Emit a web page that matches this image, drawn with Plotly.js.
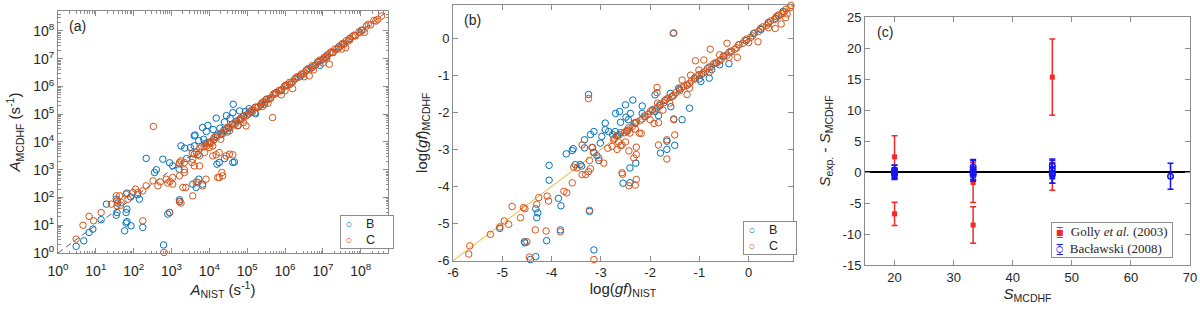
<!DOCTYPE html>
<html><head><meta charset="utf-8">
<script src="https://cdn.plot.ly/plotly-3.0.1.min.js"></script>
<style>html,body{margin:0;padding:0;background:#fff;} #chart{width:1200px;height:310px;}</style>
</head><body><div id="chart"></div>
<script>
// ---------- Panel (a): log10 of transition rates A (s^-1) ----------
const aB_logNIST = [8.70,4.63,4.62,4.80,4.45,4.18,3.96,3.82,3.60,3.62,3.92,4.10,4.28,4.40,4.55,3.60,3.25,3.72,3.85,3.50,3.35,3.70,2.77,2.33,3.03,2.95,3.20,2.55,4.26,4.62,4.66,4.40,4.20,3.56,3.65,3.82,3.72,1.82,2.15,2.10,1.92,1.54,1.58,1.28,1.56,1.54,1.80,1.82,1.82,1.80,1.93,1.76,1.14,0.92,0.82,0.68,0.48,2.24,3.21,3.22,2.95,2.90,2.79,2.60,3.40,3.90,4.02,4.12,4.21,4.33,4.38,4.51,4.60,4.72,4.81,4.90,5.03,5.12,5.21,5.36,5.50,5.62,5.76,5.91,6.02,6.13,6.26,6.41,6.56,6.71,6.86,7.01,7.12,7.27,7.42,7.56,7.71,7.86,8.02,4.47,4.76,5.22,5.46,6.92,4.95,5.05];
const aB_logMCDHF = [8.75,5.36,5.06,5.12,4.95,4.86,4.60,4.52,4.22,4.25,4.38,4.45,4.50,4.72,4.85,3.86,3.86,4.05,4.10,3.80,3.78,3.55,3.38,3.41,3.14,3.25,3.02,2.90,3.26,3.26,3.28,3.40,3.20,2.48,2.36,2.48,2.66,2.16,1.94,2.10,2.02,1.94,1.80,1.76,1.46,1.36,1.46,1.58,1.13,1.08,0.98,0.80,1.20,0.86,0.74,0.44,0.24,0.92,1.92,1.86,1.46,1.40,0.29,3.00,3.40,3.95,4.00,4.08,4.25,4.28,4.42,4.50,4.63,4.75,4.78,4.93,5.02,5.06,5.25,5.33,5.53,5.58,5.78,5.88,6.04,6.08,6.27,6.38,6.58,6.68,6.88,6.98,7.14,7.22,7.43,7.53,7.73,7.83,8.03,4.36,4.60,5.02,5.36,6.76,5.10,5.20];
const aC_logNIST = [8.55,2.52,4.97,4.75,4.53,4.09,4.09,4.18,4.26,3.87,3.74,3.56,3.54,3.60,3.34,3.21,3.21,3.25,3.34,3.74,3.92,4.00,4.44,4.53,4.62,4.33,4.22,4.26,4.35,3.38,3.56,3.69,3.82,3.91,3.65,3.03,3.21,3.34,2.86,2.90,2.96,3.03,2.51,2.64,2.70,2.33,2.24,2.11,2.05,1.98,1.80,1.63,1.85,1.67,1.54,1.56,1.56,1.65,1.41,1.14,0.94,0.82,0.66,0.48,3.21,3.25,2.24,2.95,2.80,3.30,4.05,5.67,6.20,6.64,7.17,7.10,5.40,5.90,7.60,
  3.55,3.66,3.75,3.86,3.95,4.03,4.12,4.20,4.29,4.38,4.45,4.55,4.62,4.70,4.78,4.86,4.92,5.00,5.08,5.15,5.23,5.30,5.38,5.46,5.52,5.61,5.68,5.75,5.83,5.90,5.98,6.06,6.12,6.21,6.28,6.35,6.43,6.50,6.58,6.66,6.72,6.81,6.88,6.95,7.03,7.10,7.18,7.26,7.32,7.41,7.48,7.56,7.62,7.71,7.78,7.86,7.95,8.06,8.15,8.26,8.35,8.45,4.90,5.55,6.00,6.50,7.00,7.50,8.10,5.20,4.30,6.75,
  3.60,3.80,4.00,4.16,4.34,4.50,4.66,4.82,4.97,5.12,5.27,5.42,5.57,5.72,5.87,6.02,6.17,6.32,6.47,6.62,6.77,6.92,7.07,7.22,7.37,7.52,7.67,7.82,7.98,8.20,8.40];
const aC_logMCDHF = [8.54,4.56,4.58,4.58,4.40,3.86,3.50,3.54,3.62,3.62,3.50,3.38,3.26,3.14,3.26,3.26,3.20,3.32,3.00,3.14,3.86,3.80,3.50,3.56,3.54,2.90,2.72,2.72,2.78,2.36,2.06,2.54,2.42,2.66,2.56,2.72,2.78,2.90,2.66,2.52,2.58,2.48,2.60,2.42,2.56,2.42,2.24,2.18,2.30,2.18,2.12,2.06,1.94,1.82,2.06,1.88,1.70,1.72,1.76,1.46,1.16,1.32,1.00,0.50,1.85,1.80,1.16,1.46,0.02,2.36,3.95,4.88,5.92,6.38,6.80,7.00,5.28,5.70,7.40,
  3.60,3.62,3.78,3.83,3.98,4.00,4.15,4.18,4.30,4.36,4.47,4.52,4.65,4.68,4.80,4.83,4.95,4.98,5.10,5.13,5.25,5.28,5.40,5.43,5.55,5.58,5.70,5.73,5.85,5.88,6.00,6.03,6.15,6.18,6.30,6.33,6.45,6.48,6.60,6.63,6.75,6.78,6.90,6.93,7.05,7.08,7.20,7.23,7.35,7.38,7.50,7.53,7.65,7.68,7.80,7.83,7.97,8.03,8.18,8.22,8.38,8.42,4.70,5.40,5.85,6.35,6.85,7.35,7.95,5.05,4.10,6.60,
  3.56,3.84,3.96,4.20,4.31,4.53,4.62,4.85,4.94,5.15,5.24,5.45,5.54,5.75,5.84,6.05,6.14,6.35,6.44,6.65,6.74,6.95,7.04,7.25,7.34,7.55,7.64,7.85,7.94,8.24,8.36];
const aDiag = [1, 5.2e8];

// ---------- Panel (b): log(gf) ----------
const bB_NIST = [-1.53,-3.25,-2.35,-2.50,-2.70,-2.62,-2.49,-2.44,-2.60,-2.91,-2.91,-2.84,-2.76,-2.66,-2.71,-2.98,-3.01,-3.14,-3.21,-3.33,-3.33,-3.56,-3.58,-3.70,-3.42,-3.39,-3.52,-3.17,-3.14,-3.08,-3.04,-4.05,-4.05,-3.86,-3.81,-4.30,-4.28,-4.32,-4.10,-3.82,-4.55,-4.32,-4.43,-3.14,-3.23,-2.41,-2.41,-2.55,-2.29,-1.79,-1.66,-1.50,-1.66,-1.35,-1.20,-1.58,-1.52,-1.83,-2.16,-2.40,-1.90,-2.16,-1.59,-1.42,-0.97,-0.80,-0.59,-0.40,-5.05,-4.54,-1.90,
  -2.30,-2.10,-1.95,-1.80,-1.70,-1.55,-1.40,-1.25,-1.10,-0.95,-0.80,-0.65,-0.50,-0.35,-0.20,-0.05,0.10,0.25,0.40,0.55,0.70,-2.60,-2.45,-1.00,-0.75];
const bB_MCDHF = [0.13,-1.52,-1.67,-1.80,-2.03,-1.98,-2.13,-2.20,-2.27,-2.29,-2.47,-2.52,-2.60,-2.62,-2.52,-2.65,-2.83,-2.52,-2.60,-2.74,-2.96,-2.98,-3.03,-3.12,-3.41,-3.45,-3.41,-2.95,-3.08,-3.17,-3.30,-3.43,-3.83,-4.32,-4.52,-4.84,-4.71,-4.60,-5.46,-5.17,-5.49,-5.89,-5.97,-5.71,-4.67,-3.50,-3.90,-3.91,-3.37,-3.10,-3.00,-2.89,-2.78,-2.20,-1.89,-1.85,-2.18,-2.09,-2.03,-2.03,-1.53,-1.83,-1.49,-1.35,-1.17,-1.08,-0.72,-0.69,-5.13,-5.52,-1.98,
  -2.28,-2.12,-1.93,-1.82,-1.68,-1.57,-1.38,-1.27,-1.08,-0.97,-0.78,-0.67,-0.48,-0.37,-0.18,-0.07,0.12,0.23,0.42,0.53,0.72,-2.55,-2.48,-1.10,-0.85];
const bC_NIST = [-1.52,-3.25,-5.68,-5.66,-5.24,-5.05,-4.96,-4.87,-4.80,-4.57,-4.63,-4.54,-4.50,-4.45,-4.33,-4.30,-4.26,-4.09,-4.11,-4.06,-3.82,-3.75,-3.69,-3.58,-3.55,-3.48,-3.38,-3.31,-3.25,-3.21,-3.38,-3.23,-3.23,-3.14,-3.18,-3.15,-3.04,-2.94,-2.86,-2.77,-2.74,-2.67,-2.64,-2.57,-2.50,-2.47,-2.43,-2.60,-2.41,-2.22,-2.28,-2.28,-2.28,-2.33,-2.57,-2.56,-2.30,-2.43,-1.86,-1.86,-1.74,-1.83,-1.83,-1.66,-1.66,-1.92,-2.18,-1.50,-1.52,-1.25,-1.35,-1.18,-1.01,-1.08,-0.91,-0.78,-0.59,-0.44,-0.23,0.19,0.54,0.66,0.61,0.78,0.88,
  -2.72,-2.62,-2.52,-2.44,-2.36,-2.28,-2.20,-2.12,-2.04,-1.96,-1.88,-1.80,-1.72,-1.64,-1.56,-1.48,-1.40,-1.32,-1.24,-1.16,-1.08,-1.00,-0.92,-0.84,-0.76,-0.68,-0.60,-0.52,-0.44,-0.36,-0.28,-0.20,-0.12,-0.04,0.04,0.12,0.20,0.28,0.36,0.44,0.52,0.60,0.68,0.76,0.84,-2.00,-1.60,-1.20,-0.80,-0.40,0.00,0.40,0.75,-2.30,-1.85,
  -2.68,-2.48,-2.32,-2.16,-2.00,-1.84,-1.68,-1.52,-1.36,-1.20,-1.04,-0.88,-0.72,-0.56,-0.40,-0.24,-0.08,0.08,0.24,0.40,0.56,0.72,0.86];
const bC_MCDHF = [0.14,-1.63,-5.82,-5.60,-5.29,-5.09,-4.93,-5.02,-4.54,-4.57,-4.84,-4.60,-5.49,-5.90,-5.17,-4.48,-4.30,-4.26,-5.20,-4.39,-5.22,-4.13,-4.17,-3.90,-3.48,-3.50,-3.68,-3.68,-3.60,-3.52,-2.88,-3.30,-4.64,-5.97,-2.95,-3.08,-3.23,-3.37,-2.97,-2.92,-2.74,-3.00,-2.80,-2.88,-2.80,-2.52,-3.04,-2.90,-2.56,-2.56,-2.94,-3.14,-3.81,-3.23,-3.63,-3.67,-3.96,-3.98,-1.33,-1.47,-1.94,-2.28,-2.88,-2.74,-3.26,-2.30,-2.57,-2.61,-2.20,-1.52,-1.13,-1.00,-0.86,-0.61,-0.59,-0.30,-0.45,-0.14,-0.52,-0.10,0.26,0.38,0.60,0.65,0.92,
  -2.70,-2.60,-2.55,-2.42,-2.38,-2.27,-2.22,-2.10,-2.06,-1.95,-1.90,-1.78,-1.74,-1.62,-1.58,-1.47,-1.42,-1.30,-1.26,-1.15,-1.10,-0.98,-0.94,-0.82,-0.78,-0.67,-0.62,-0.50,-0.46,-0.35,-0.30,-0.18,-0.14,-0.03,0.02,0.14,0.18,0.30,0.34,0.46,0.50,0.62,0.66,0.78,0.82,-2.20,-1.75,-1.35,-0.92,-0.52,-0.12,0.28,0.55,-2.45,-1.75,
  -2.64,-2.50,-2.30,-2.18,-1.98,-1.86,-1.66,-1.54,-1.34,-1.22,-1.02,-0.90,-0.70,-0.58,-0.38,-0.26,-0.06,0.06,0.26,0.38,0.58,0.70,0.88];
const bDiag = [-6, 0.9];

// ---------- Panel (c): S_exp - S_MCDHF ----------
const golly_S = [20, 20, 33.3, 33.3, 46.7, 46.7];
const golly_diff = [2.45, -6.75, -8.55, -1.7, 15.3, -0.7];
const golly_err = [3.4, 1.87, 2.95, 3.2, 6.15, 2.25];
const bac_S = [20, 20, 20, 20, 33.3, 33.3, 33.3, 33.3, 46.7, 46.7, 46.7, 46.7, 66.7];
const bac_diff = [0.3, 0.1, -0.2, -0.4, 0.8, 0.3, -0.2, -0.5, 1.0, 0.4, -0.2, -0.5, -0.7];
const bac_err = [0.8, 1.0, 0.9, 0.8, 1.2, 1.5, 1.0, 1.0, 1.1, 1.5, 1.6, 1.3, 2.1];

// ---------- styling ----------
const FONT = '"Liberation Sans", Arial, sans-serif';
const SERIF = '"Liberation Serif", "Times New Roman", serif';
const TXT = '#262626';
const AXC = '#8c8c8c';
const BLUE = '#0072BD', ORANGE = '#D95319', YEL = '#EDB120';
const RED = 'rgb(245,40,40)', BBLUE = 'rgb(20,20,245)';
const pow10 = v => Math.pow(10, v);

const majorVals = [], majorText = [], minorVals = [];
for (let n = 0; n <= 8; n++) {
  majorVals.push(Math.pow(10, n));
  majorText.push('10<sup>' + n + '</sup>');
  for (let k = 2; k <= 9; k++) minorVals.push(k * Math.pow(10, n));
}

function ax(extra) {
  return Object.assign({
    showline: true, linecolor: AXC, linewidth: 1, mirror: 'ticks',
    ticks: 'inside', ticklen: 5, tickcolor: AXC, tickwidth: 1,
    showgrid: false, zeroline: false, automargin: false,
    tickfont: {family: FONT, size: 13, color: TXT}
  }, extra);
}
function logAx(extra) {
  return ax(Object.assign({
    type: 'log', range: [0, 8.72],
    tickmode: 'array', tickvals: majorVals, ticktext: majorText,
    tickfont: {family: FONT, size: 14, color: TXT},
    minor: {tickmode: 'array', tickvals: minorVals, ticks: 'inside', ticklen: 2.5, tickcolor: AXC, showgrid: false}
  }, extra));
}
const titleFont = {family: FONT, size: 15, color: TXT};

const circ = (c) => ({symbol: 'circle-open', size: 6.5, color: c, line: {width: 1, color: c}});

const traces = [
  {x: aDiag, y: aDiag, mode: 'lines', line: {color: '#333', width: 0.8, dash: '6px,4px'}, xaxis: 'x', yaxis: 'y', hoverinfo: 'skip'},
  {x: aB_logNIST.map(pow10), y: aB_logMCDHF.map(pow10), mode: 'markers', name: 'B', marker: circ(BLUE), xaxis: 'x', yaxis: 'y', cliponaxis: false},
  {x: aC_logNIST.map(pow10), y: aC_logMCDHF.map(pow10), mode: 'markers', name: 'C', marker: circ(ORANGE), xaxis: 'x', yaxis: 'y', cliponaxis: false},

  {x: bDiag, y: bDiag, mode: 'lines', line: {color: YEL, width: 1}, xaxis: 'x2', yaxis: 'y2', hoverinfo: 'skip'},
  {x: bB_NIST, y: bB_MCDHF, mode: 'markers', name: 'B', marker: circ(BLUE), xaxis: 'x2', yaxis: 'y2', cliponaxis: false},
  {x: bC_NIST, y: bC_MCDHF, mode: 'markers', name: 'C', marker: circ(ORANGE), xaxis: 'x2', yaxis: 'y2', cliponaxis: false},

  {x: golly_S, y: golly_diff, mode: 'markers', name: 'Golly et al. (2003)',
   marker: {symbol: 'square', size: 5, color: RED},
   error_y: {type: 'data', array: golly_err, visible: true, color: RED, thickness: 1.5, width: 3},
   xaxis: 'x3', yaxis: 'y3'},
  {x: bac_S, y: bac_diff, mode: 'markers', name: 'Bacławski (2008)',
   marker: {symbol: 'circle-open', size: 5.5, color: BBLUE, line: {width: 1.5, color: BBLUE}},
   error_y: {type: 'data', array: bac_err, visible: true, color: BBLUE, thickness: 1.5, width: 3},
   xaxis: 'x3', yaxis: 'y3'}
];

const W = 1200, H = 310;
const dx = (a, b) => [a / W, b / W];
const dy = (top, bottom) => [1 - bottom / H, 1 - top / H];

const sym = (c, ch, sz) => '<span style="color:' + c + ';font-size:' + sz + 'px">' + ch + '</span>';
function legendBox(text, px, py, font) {
  return {text: text, xref: 'paper', yref: 'paper', x: px / W, y: 1 - py / H, xanchor: 'left', yanchor: 'top',
    align: 'left', showarrow: false, bgcolor: '#fff', bordercolor: AXC, borderwidth: 1, borderpad: 1, font: font};
}
const legFont = {family: FONT, size: 12.5, color: TXT};
const legText = ' ' + sym(BLUE, '○', 11) + '    B     ' + '<br>' + ' ' + sym(ORANGE, '○', 11) + '    C     ';
const legTextC = ' ' + sym(RED, '⧯', 12) + '  Golly <i>et al.</i> (2003) <br>' + ' ' + sym(BBLUE, '⧲', 12) + '  Bacławski (2008) ';

const layout = {
  width: W, height: H,
  margin: {l: 0, r: 0, t: 0, b: 0},
  paper_bgcolor: '#fff', plot_bgcolor: '#fff',
  font: {family: FONT, color: TXT},
  showlegend: false,
  xaxis: logAx({domain: dx(58, 388), anchor: 'y', ticklabelstandoff: 5,
    title: {text: '<i>A</i><sub>NIST</sub> (s<sup>-1</sup>)', font: titleFont, standoff: 4}}),
  yaxis: logAx({domain: dy(11, 253), anchor: 'x',
    title: {text: '<i>A</i><sub>MCDHF</sub> (s<sup>-1</sup>)', font: titleFont, standoff: 8}}),
  xaxis2: ax({domain: dx(453, 793), anchor: 'y2', range: [-6, 0.9], tickvals: [-6,-5,-4,-3,-2,-1,0], ticktext: ['-6','-5','-4','-3','-2','-1','0'],
    title: {text: 'log(<i>gf</i>)<sub>NIST</sub>', font: titleFont, standoff: 4}}),
  yaxis2: ax({domain: dy(4.7, 260.7), anchor: 'x2', range: [-6, 0.9], tickvals: [-6,-5,-4,-3,-2,-1,0], ticktext: ['-6','-5','-4','-3','-2','-1','0'],
    title: {text: 'log(<i>gf</i>)<sub>MCDHF</sub>', font: titleFont, standoff: 6}}),
  xaxis3: ax({domain: dx(865, 1190), anchor: 'y3', range: [15, 70], tickvals: [20,30,40,50,60,70],
    title: {text: '<i>S</i><sub>MCDHF</sub>', font: titleFont, standoff: 4}}),
  yaxis3: ax({domain: dy(17, 265), anchor: 'x3', range: [-15, 25], tickvals: [-15,-10,-5,0,5,10,15,20,25], ticktext: ['-15','-10','-5','0','5','10','15','20','25'],
    zeroline: true, zerolinecolor: '#000', zerolinewidth: 1.5,
    title: {text: '<i>S</i><sub>exp.</sub> - <i>S</i><sub>MCDHF</sub>', font: titleFont, standoff: 8}}),
  annotations: [
    {text: '(a)', xref: 'paper', yref: 'paper', x: 67 / W, y: 1 - 26 / H, xanchor: 'left', yanchor: 'middle', showarrow: false, font: {family: FONT, size: 14, color: TXT}},
    {text: '(b)', xref: 'paper', yref: 'paper', x: 462 / W, y: 1 - 20 / H, xanchor: 'left', yanchor: 'middle', showarrow: false, font: {family: FONT, size: 14, color: TXT}},
    {text: '(c)', xref: 'paper', yref: 'paper', x: 875 / W, y: 1 - 32 / H, xanchor: 'left', yanchor: 'middle', showarrow: false, font: {family: FONT, size: 14, color: TXT}},
    legendBox(legText, 340, 215, legFont),
    legendBox(legText, 743, 221, legFont),
    legendBox(legTextC, 1051, 222, {family: SERIF, size: 13, color: TXT})
  ]
};

Plotly.newPlot('chart', traces, layout, {staticPlot: true, displayModeBar: false});
</script>
</body></html>
